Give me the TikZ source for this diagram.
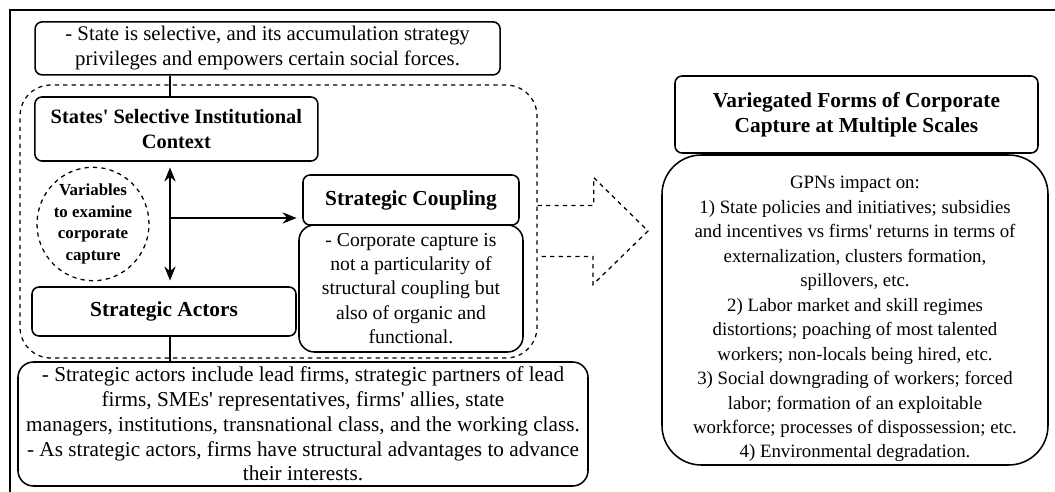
\documentclass[tikz,border=0pt]{standalone}
\usepackage{fontspec}
\setmainfont{Liberation Serif}
\usetikzlibrary{positioning,arrows.meta,shapes.geometric}
\newcommand{\apos}{\textquotesingle}

\begin{document}
\begin{tikzpicture}[
    font=\fontsize{14}{17.6}\selectfont,
    box/.style={draw, line width=1.1pt, rounded corners=5pt, align=center, inner sep=1pt},
    softbox/.style={box, rounded corners=11pt},
    heading/.style={font=\fontsize{15.2}{17.8}\selectfont\bfseries},
    arr/.style={line width=1.1pt, -{Stealth[length=10pt,width=8pt]}},
    dbl/.style={line width=1.1pt, {Stealth[length=10pt,width=8pt]}-{Stealth[length=10pt,width=8pt]}}
]
    \useasboundingbox (0,0) rectangle (26.375,-12.3);
    % Marco
    \draw[line width=1.1pt] (0.25,-12.3) -- (0.25,-0.25) -- (26.375,-0.25);

    % Zona punteada
    \node[draw, dashed, line width=0.9pt, rounded corners=22pt, minimum width=12.925cm, minimum height=6.825cm] (zone) at (6.9625,-5.5375) {};

    % Cajas izquierda
    \node[box, minimum width=11.625cm, minimum height=1.325cm, font=\fontsize{14.8}{17.8}\selectfont] (state) at (6.69,-1.21)
        {- State is selective, and its accumulation strategy\\ privileges and empowers certain social forces.};
    \node[box, heading, minimum width=7.075cm, minimum height=1.6cm, font=\fontsize{14.5}{17.8}\selectfont\bfseries] (context) at (4.41,-3.225)
        {States\apos{} Selective Institutional\\ Context};
    \node[draw, dashed, line width=0.9pt, ellipse, align=center, inner sep=0pt, minimum width=2.8cm, minimum height=2.6cm,
        font=\fontsize{12}{15.4}\selectfont\bfseries] (vars) at (2.325,-5.6)
        {Variables\\ to examine\\ corporate\\ capture};
    \node[box, heading, minimum width=5.4cm, minimum height=1.25cm] (coupling) at (10.275,-5.0)
        {Strategic Coupling};
    \node[softbox, minimum width=5.6cm, minimum height=3.175cm, font=\fontsize{14}{17.2}\selectfont] (capture) at (10.275,-7.2125)
        {- Corporate capture is\\ not a particularity of\\ structural coupling but\\ also of organic and\\ functional.};
    \node[box, heading, minimum width=6.6cm, minimum height=1.225cm] (actors) at (4.1,-7.7875)
        {Strategic Actors};
    \node[softbox, minimum width=14.25cm, minimum height=3.1cm, font=\fontsize{15.1}{17.6}\selectfont] (actnote) at (7.575,-10.6)
        {- Strategic actors include lead firms, strategic partners of lead\\
         firms, SMEs\apos{} representatives, firms\apos{} allies, state\\
         managers, institutions, transnational class, and the working class.\\
         - As strategic actors, firms have structural advantages to advance\\
         their interests.};

    % Conexiones
    \coordinate (hub) at (4.25,-5.45);
    \draw[line width=1.1pt] (state.south -| hub) -- (context.north -| hub);
    \draw[dbl, shorten <=4pt, shorten >=4pt] (context.south -| hub) -- (actors.north -| hub);
    \draw[arr, shorten >=4pt] (hub) -- (hub -| coupling.west);
    \draw[line width=1.1pt] (actors.south -| hub) -- (actnote.north -| hub);

    % Flecha grande punteada
    \draw[dashed, line width=0.9pt] (zone.east |- 0,-5.1375) -- ++(1.4,0) -- ++(0,0.7) -- (16.2,-5.775)
        -- (14.825,-7.1125) -- ++(0,0.7) -- (zone.east |- 0,-6.4125);

    % Cajas derecha
    \node[box, heading, minimum width=9.075cm, minimum height=1.925cm] (forms) at (21.4125,-2.8625)
        {Variegated Forms of Corporate\\ Capture at Multiple Scales};
    \node[box, rounded corners=28pt, minimum width=9.65cm, minimum height=7.75cm, font=\fontsize{13.4}{17.4}\selectfont] (impact) at (21.375,-7.75)
        {\rule{0pt}{22pt}GPNs impact on:\\
         1) State policies and initiatives; subsidies\\
         and incentives vs firms\apos{} returns in terms of\\
         externalization, clusters formation,\\
         spillovers, etc.\\
         2) Labor market and skill regimes\\
         distortions; poaching of most talented\\
         workers; non-locals being hired, etc.\\
         3) Social downgrading of workers; forced\\
         labor; formation of an exploitable\\
         workforce; processes of dispossession; etc.\\
         4) Environmental degradation.};
\end{tikzpicture}
\end{document}
